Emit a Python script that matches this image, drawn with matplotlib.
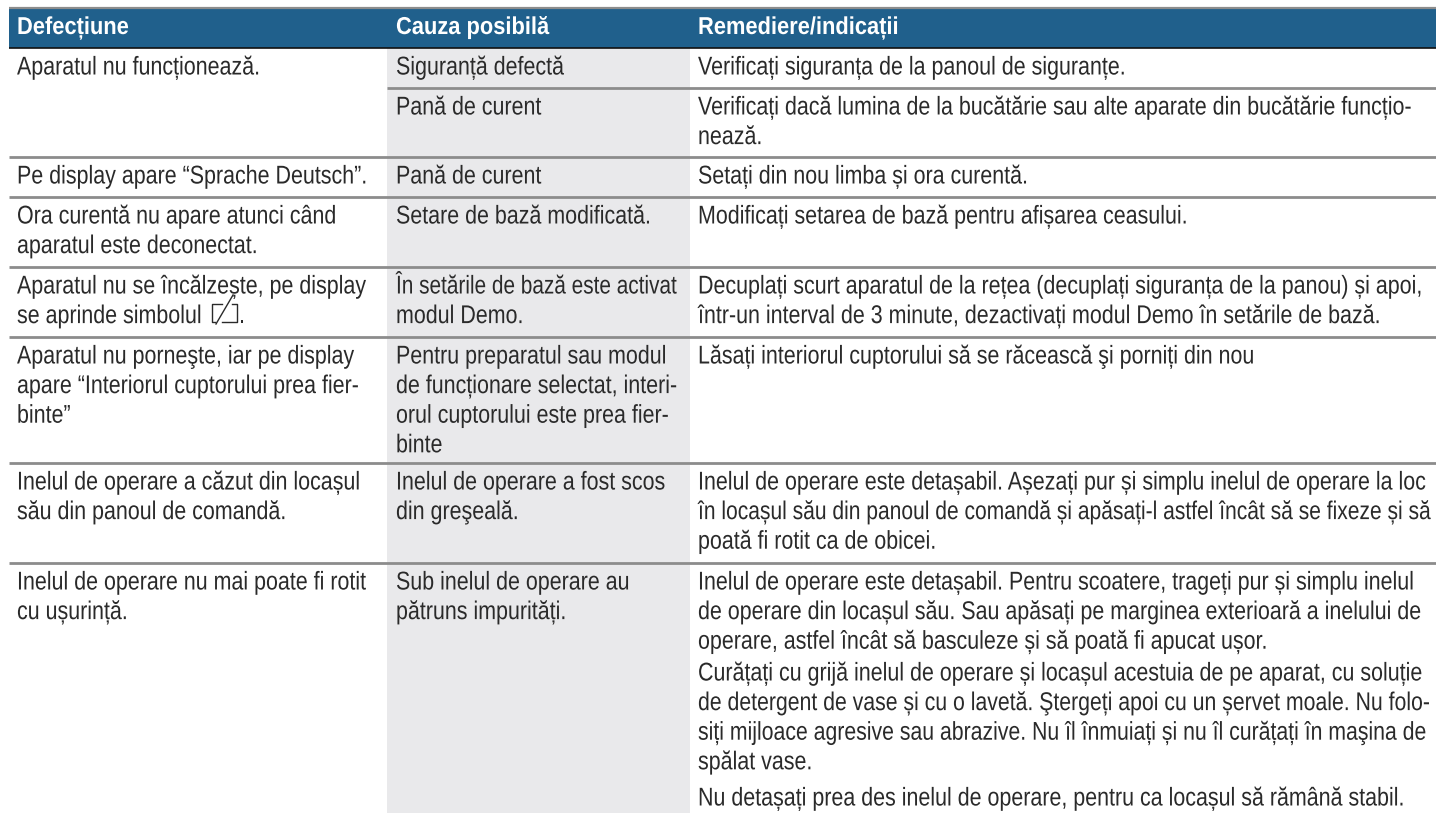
#!/usr/bin/env python3
"""Troubleshooting table from an appliance manual, drawn on pixel coordinates."""
import matplotlib
matplotlib.use("Agg")
import matplotlib.pyplot as plt
from matplotlib.patches import Rectangle
from matplotlib.patheffects import AbstractPathEffect
from matplotlib.transforms import Affine2D

W, H = 1436, 813

headers = ["Defecțiune", "Cauza posibilă", "Remediere/indicații"]

col1_cells = [
    ["Aparatul nu funcționează."],
    ["Pe display apare “Sprache Deutsch”."],
    ["Ora curentă nu apare atunci când", "aparatul este deconectat."],
    ["Aparatul nu se încălzește, pe display", "se aprinde simbolul"],
    ["Aparatul nu porneşte, iar pe display", "apare “Interiorul cuptorului prea fier-", "binte”"],
    ["Inelul de operare a căzut din locașul", "său din panoul de comandă."],
    ["Inelul de operare nu mai poate fi rotit", "cu ușurință."],
]

col2_cells = [
    ["Siguranță defectă"],
    ["Pană de curent"],
    ["Pană de curent"],
    ["Setare de bază modificată."],
    ["În setările de bază este activat", "modul Demo."],
    ["Pentru preparatul sau modul", "de funcționare selectat, interi-", "orul cuptorului este prea fier-", "binte"],
    ["Inelul de operare a fost scos", "din greşeală."],
    ["Sub inelul de operare au", "pătruns impurități."],
]

col3_cells = [
    ["Verificați siguranța de la panoul de siguranțe."],
    ["Verificați dacă lumina de la bucătărie sau alte aparate din bucătărie funcțio-", "nează."],
    ["Setați din nou limba și ora curentă."],
    ["Modificați setarea de bază pentru afișarea ceasului."],
    ["Decuplați scurt aparatul de la rețea (decuplați siguranța de la panou) și apoi,",
     "într-un interval de 3 minute, dezactivați modul Demo în setările de bază."],
    ["Lăsați interiorul cuptorului să se răcească şi porniți din nou"],
    ["Inelul de operare este detașabil. Așezați pur și simplu inelul de operare la loc",
     "în locașul său din panoul de comandă și apăsați-l astfel încât să se fixeze și să",
     "poată fi rotit ca de obicei."],
    ["Inelul de operare este detașabil. Pentru scoatere, trageți pur și simplu inelul",
     "de operare din locașul său. Sau apăsați pe marginea exterioară a inelului de",
     "operare, astfel încât să basculeze și să poată fi apucat ușor."],
]

last_extra = [
    ["Curățați cu grijă inelul de operare și locașul acestuia de pe aparat, cu soluție",
     "de detergent de vase și cu o lavetă. Ştergeți apoi cu un șervet moale. Nu folo-",
     "siți mijloace agresive sau abrazive. Nu îl înmuiați și nu îl curățați în maşina de",
     "spălat vase."],
    ["Nu detașați prea des inelul de operare, pentru ca locașul să rămână stabil."],
]

# row tops in pixels
col1_tops = [48, 157, 197, 267, 337, 463, 563]
sub_tops = [48, 88, 157, 197, 267, 337, 463, 563]
extra_starts = [654, 779]

LEFT, COL2, COL3 = 9, 387, 690
X1, X2, X3 = 17, 396, 698
LINE = 29.6
FIRST = 26.5
FONT = ["Liberation Sans", "DejaVu Sans"]
BODY_SIZE = 15.43
HEAD_SIZE = 15.75
BODY_TALL = 1.199
HEAD_TALL = 1.117
INK = "#2a2a2a"
BLUE = "#20608c"
BAND = "#e9e9eb"
RULE = "#8c8c8c"


class Tall(AbstractPathEffect):
    """Stretches a text run upward from its baseline, to look like a condensed face."""

    def __init__(self, y0, sy):
        super().__init__()
        self.y0 = y0
        self.sy = sy

    def draw_path(self, renderer, gc, tpath, affine, rgbFace=None):
        tall = Affine2D().translate(0, -self.y0).scale(1, self.sy).translate(0, self.y0)
        renderer.draw_path(gc, tpath, affine + tall, rgbFace)


def put_text(ax, x, y, s, size=BODY_SIZE, tall=BODY_TALL, **kw):
    # the printed lines are justified, a few run tighter than the rest
    fit = 1.0
    if s.endswith("este activat"):
        fit = 0.97
    elif s.endswith("fixeze și să"):
        fit = 0.981
    elif s.endswith("Nu folo-") or s.endswith("maşina de"):
        fit = 0.991
    ax.text(x, y, s, family=FONT, fontsize=size * fit, va="baseline", ha="left",
            path_effects=[Tall(H - y, tall / fit)], **kw)


def put_cell(ax, x, top, lines):
    for i, line in enumerate(lines):
        put_text(ax, x, top + FIRST + i * LINE, line, color=INK)


def main():
    fig = plt.figure(figsize=(W / 100, H / 100), dpi=100, facecolor="white")
    ax = fig.add_axes([0, 0, 1, 1])
    ax.set_xlim(0, W)
    ax.set_ylim(H, 0)
    ax.axis("off")

    # header band and grey middle column
    ax.add_patch(Rectangle((LEFT, 9), W - LEFT, 39, fc=BLUE, ec="none"))
    ax.add_patch(Rectangle((COL2, 48), COL3 - COL2, H - 48, fc=BAND, ec="none"))
    ax.plot([LEFT, W], [8, 8], color=RULE, lw=1.6, solid_capstyle="butt")
    ax.plot([LEFT, W], [48, 48], color="#111111", lw=1.2, solid_capstyle="butt")

    for top in col1_tops[1:]:
        ax.plot([LEFT, W], [top, top], color=RULE, lw=2.0, solid_capstyle="butt")
    ax.plot([COL2, W], [sub_tops[1]] * 2, color=RULE, lw=2.0, solid_capstyle="butt")

    for x, label in zip([X1, X2, X3], headers):
        put_text(ax, x, 34, label, size=HEAD_SIZE, tall=HEAD_TALL,
                 color="white", fontweight="bold")

    for top, lines in zip(col1_tops, col1_cells):
        put_cell(ax, X1, top, lines)
    for top, lines in zip(sub_tops, col2_cells):
        put_cell(ax, X2, top, lines)
    for top, lines in zip(sub_tops, col3_cells):
        put_cell(ax, X3, top, lines)
    for top, lines in zip(extra_starts, last_extra):
        put_cell(ax, X3, top, lines)

    # demo-mode symbol after "simbolul"
    ax.plot([222, 212, 212, 215], [304, 304, 322, 322], color=INK, lw=1.0)
    ax.plot([232, 237, 237, 222], [304, 304, 322, 322], color=INK, lw=1.0)
    ax.plot([216, 233], [324, 295], color=INK, lw=1.0)
    put_text(ax, 239, 323, ".", color=INK)

    fig.savefig("out.png", dpi=100)


if __name__ == "__main__":
    main()
